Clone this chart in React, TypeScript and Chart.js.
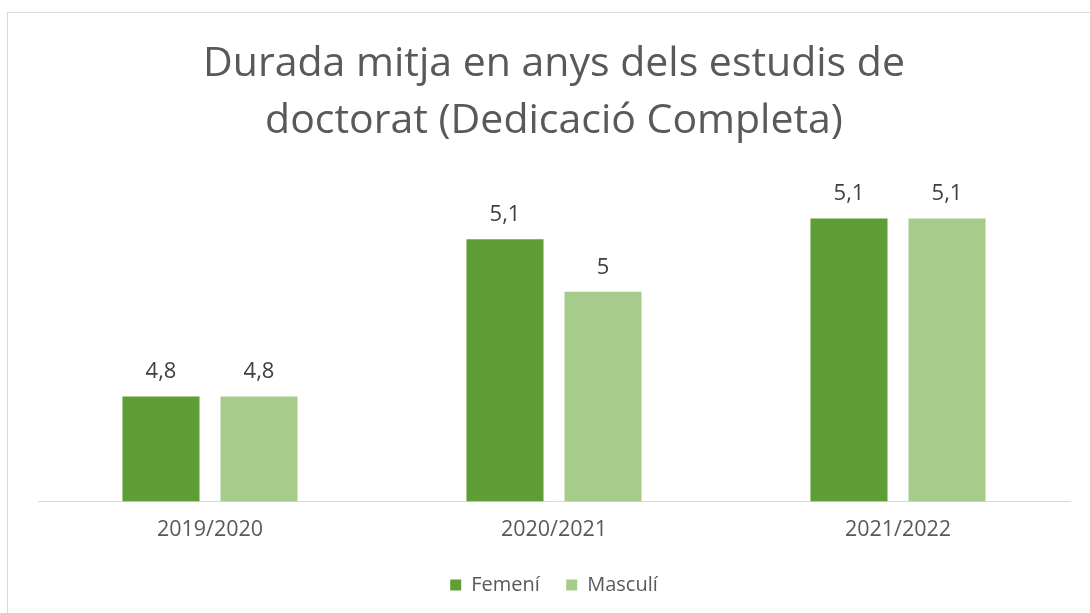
import React, { useEffect, useRef } from "react";
import { Chart, registerables } from "chart.js";

Chart.register(...registerables);

const categories = ["2019/2020", "2020/2021", "2021/2022"];
const femeni = [4.8, 5.1, 5.14];
const masculi = [4.8, 5.0, 5.14];
const titleLines = ["Durada mitja en anys dels estudis de", "doctorat (Dedicació Completa)"];
const seriesNames = ["Femení", "Masculí"];
const yMin = 4.6;
const yMax = 5.2;

const FONT = "'Open Sans', sans-serif";
const TEXT = "#595959";

const fmt = (v: number) => String(Number(v.toFixed(1))).replace(".", ",");

const dataLabels = {
  id: "dataLabels",
  afterDatasetsDraw(chart: any) {
    const ctx = chart.ctx;
    ctx.save();
    ctx.font = `22px ${FONT}`;
    ctx.fillStyle = "#404040";
    ctx.textAlign = "center";
    ctx.textBaseline = "alphabetic";
    chart.data.datasets.forEach((ds: any, i: number) => {
      const meta = chart.getDatasetMeta(i);
      meta.data.forEach((el: any, j: number) => {
        ctx.fillText(fmt(ds.data[j]), el.x, el.y - 18);
      });
    });
    ctx.restore();
  },
};

export default function App() {
  const ref = useRef<HTMLCanvasElement>(null);
  useEffect(() => {
    if (!ref.current) return;
    const chart = new Chart(ref.current, {
      type: "bar",
      data: {
        labels: categories,
        datasets: [
          { label: seriesNames[0], data: femeni, backgroundColor: "#5E9E34", borderWidth: 0 },
          { label: seriesNames[1], data: masculi, backgroundColor: "#A6CB8A", borderWidth: 0 },
        ],
      },
      options: {
        responsive: false,
        animation: false,
        datasets: { bar: { categoryPercentage: 0.57, barPercentage: 0.786 } },
        layout: { padding: { left: 38, right: 20, top: 36, bottom: 8 } },
        scales: {
          x: {
            grid: { display: false, drawTicks: false },
            border: { display: true, color: "#d9d9d9", width: 1 },
            ticks: { font: { family: FONT, size: 21.5 }, color: TEXT, padding: 16 },
          },
          y: { display: false, min: yMin, max: yMax },
        },
        plugins: {
          title: {
            display: true,
            text: titleLines,
            font: { family: FONT, size: 41, weight: "normal", lineHeight: 1.39 },
            color: TEXT,
            padding: { top: 0, bottom: 37 },
          },
          legend: {
            position: "bottom",
            labels: {
              boxWidth: 11,
              boxHeight: 11,
              font: { family: FONT, size: 20 },
              color: TEXT,
              padding: 16,
              generateLabels: (c: any) => {
                const items = (Chart.defaults.plugins.legend.labels as any).generateLabels(c);
                if (items[0]) items[0].text += "  ";
                return items;
              },
            },
          },
          tooltip: { enabled: false },
        },
      },
      plugins: [dataLabels],
    });
    return () => chart.destroy();
  }, []);
  return (
    <div style={{ position: "fixed", left: 0, top: 0, width: 1090, height: 613, overflow: "hidden", background: "#fff" }}>
      <div style={{ position: "absolute", left: 7, top: 12, width: 1100, height: 620, borderTop: "1px solid #d9d9d9", borderLeft: "1px solid #d9d9d9" }} />
      <canvas ref={ref} width={1090} height={613} style={{ position: "absolute", left: 0, top: 0 }} />
    </div>
  );
}
